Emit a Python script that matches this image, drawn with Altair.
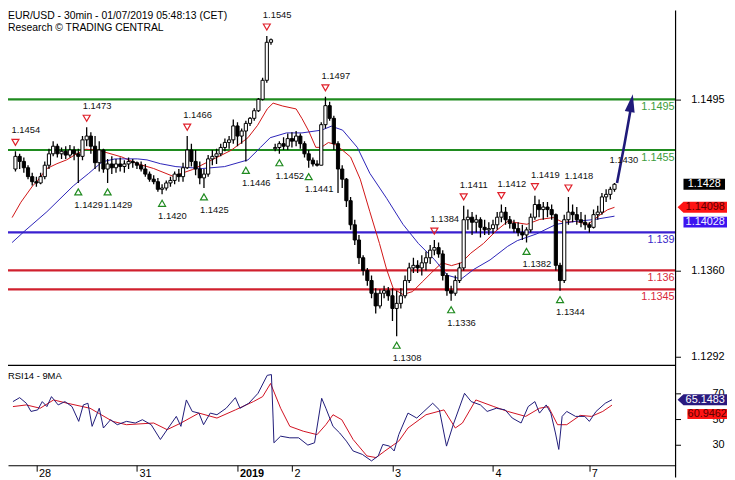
import altair as alt
import pandas as pd

# ---------------- DATA (prices in pips: 1454 -> 1.1454) ----------------
bar_hour = list(range(-5, 139))
bar_high = [1454, 1452, 1449, 1443, 1437, 1434, 1437, 1446, 1456, 1462,
            1460, 1457, 1458, 1459, 1458, 1456, 1466, 1473, 1469, 1466,
            1462, 1456, 1448, 1450, 1448, 1449, 1447, 1449, 1448, 1446,
            1446, 1444, 1438, 1435, 1433, 1428, 1431, 1434, 1438, 1440,
            1445, 1466, 1460, 1455, 1446, 1440, 1451, 1455, 1456, 1460,
            1464, 1466, 1479, 1477, 1472, 1478, 1481, 1488, 1496, 1512,
            1545, 1543, 1460, 1462, 1465, 1468, 1469, 1470, 1468, 1462,
            1455, 1449, 1447, 1477, 1497, 1493, 1482, 1462, 1443, 1433,
            1418, 1400, 1388, 1372, 1362, 1356, 1346, 1345, 1348, 1347,
            1346, 1344, 1346, 1356, 1366, 1370, 1368, 1372, 1375, 1380,
            1384, 1382, 1376, 1358, 1348, 1356, 1366, 1411, 1408, 1406,
            1404, 1402, 1400, 1398, 1400, 1406, 1412, 1410, 1403, 1400,
            1398, 1396, 1394, 1405, 1419, 1416, 1414, 1414, 1412, 1405,
            1366, 1404, 1418, 1412, 1410, 1406, 1404, 1398, 1408, 1411,
            1421, 1424, 1426, 1429]
bar_low = [1438, 1440, 1437, 1432, 1427, 1426, 1428, 1432, 1440, 1450,
           1449, 1448, 1448, 1449, 1447, 1429, 1447, 1458, 1452, 1440,
           1438, 1437, 1429, 1436, 1437, 1438, 1437, 1440, 1441, 1440,
           1438, 1434, 1430, 1428, 1422, 1420, 1423, 1426, 1428, 1430,
           1430, 1440, 1442, 1435, 1428, 1425, 1434, 1443, 1444, 1450,
           1454, 1456, 1460, 1458, 1460, 1446, 1474, 1478, 1485, 1494,
           1508, 1538, 1454, 1452, 1455, 1455, 1457, 1458, 1456, 1449,
           1441, 1442, 1442, 1443, 1472, 1478, 1455, 1421, 1425, 1410,
           1392, 1380, 1365, 1356, 1348, 1338, 1326, 1330, 1338, 1336,
           1320, 1308, 1330, 1338, 1350, 1358, 1358, 1356, 1360, 1365,
           1372, 1370, 1352, 1340, 1336, 1340, 1350, 1360, 1392, 1388,
           1390, 1386, 1388, 1388, 1389, 1392, 1398, 1396, 1393, 1390,
           1387, 1384, 1382, 1390, 1400, 1402, 1400, 1402, 1400, 1360,
           1344, 1350, 1396, 1398, 1396, 1394, 1392, 1390, 1393, 1400,
           1404, 1414, 1416, 1422]
bar_close = [1450, 1446, 1441, 1434, 1430, 1429, 1434, 1443, 1452, 1458,
             1452, 1454, 1451, 1455, 1452, 1450, 1463, 1466, 1458, 1445,
             1455, 1440, 1444, 1441, 1444, 1442, 1444, 1446, 1445, 1443,
             1440, 1436, 1432, 1430, 1424, 1425, 1429, 1431, 1436, 1434,
             1441, 1455, 1446, 1440, 1433, 1436, 1448, 1450, 1452, 1457,
             1461, 1463, 1474, 1466, 1470, 1476, 1480, 1486, 1495, 1510,
             1540, 1542, 1457, 1460, 1458, 1464, 1462, 1466, 1460, 1452,
             1447, 1444, 1443, 1475, 1490, 1480, 1460, 1440, 1432, 1415,
             1396, 1384, 1370, 1360, 1352, 1342, 1332, 1342, 1344, 1340,
             1330, 1334, 1340, 1352, 1362, 1364, 1362, 1366, 1370, 1376,
             1378, 1373, 1356, 1344, 1342, 1352, 1362, 1400, 1402, 1398,
             1400, 1394, 1392, 1393, 1396, 1402, 1406, 1400, 1397, 1393,
             1390, 1388, 1392, 1402, 1412, 1408, 1410, 1408, 1404, 1364,
             1352, 1400, 1406, 1404, 1400, 1398, 1396, 1394, 1404, 1406,
             1418, 1420, 1424, 1428]
first_open = 1440
session_open = {57: 1456}

red_ma_hour = [-5.8, -3.7, -0.9, 0.2, 2.5, 4.9, 7.2, 9.5, 11.8, 14.8,
               20.4, 24.1, 28.0, 32.6, 37.3, 41.9, 46.5, 50.5, 52.8, 55.1,
               56.5, 58.8, 62.0, 63.4, 65.0, 66.7, 68.0, 69.7, 71.3, 73.1,
               75.0, 77.3, 79.6, 81.9, 83.6, 85.2, 87.5, 89.8, 92.1, 94.4,
               96.8, 99.1, 101.4, 103.7, 106.7, 109.7, 112.5, 117.1, 120.1, 123.4,
               125.7, 128.7, 131.7, 134.0, 136.3, 138.0]
red_ma_pips = [1401.7, 1413.8, 1426.7, 1430.5, 1440.4, 1444.2, 1447.2, 1451.8, 1455.6, 1454.8,
               1449.5, 1444.2, 1440.4, 1434.3, 1439.6, 1447.2, 1454.8, 1464.7, 1474.5, 1487.4,
               1492.0, 1489.7, 1487.4, 1479.8, 1470.0, 1457.1, 1457.1, 1460.9, 1459.4, 1454.8,
               1449.5, 1432.0, 1406.3, 1381.2, 1360.8, 1345.6, 1341.0, 1343.3, 1350.9, 1358.5,
               1366.0, 1363.8, 1366.0, 1373.6, 1381.2, 1391.1, 1398.7, 1396.4, 1400.2, 1401.7,
               1397.9, 1398.7, 1396.4, 1402.5, 1407.8, 1409.8]
blue_ma_hour = [-5.8, -2.8, 2.5, 8.8, 12.5, 15.7, 18.8, 24.1, 26.4, 29.6,
                33.3, 39.6, 44.9, 50.5, 53.5, 55.8, 59.7, 63.4, 68.1, 70.4,
                73.1, 76.6, 79.6, 83.6, 87.5, 91.2, 95.1, 98.1, 101.4, 104.4,
                108.3, 112.5, 114.8, 119.4, 124.1, 128.7, 133.3, 138.0]
blue_ma_pips = [1382.0, 1391.1, 1406.3, 1426.7, 1436.6, 1445.7, 1448.0, 1448.0, 1447.2, 1444.2,
                1441.9, 1440.4, 1441.9, 1447.2, 1457.1, 1464.7, 1468.5, 1468.5, 1470.7, 1473.8,
                1470.7, 1457.1, 1436.6, 1416.9, 1396.4, 1381.2, 1368.3, 1356.2, 1353.2, 1360.8,
                1368.3, 1379.0, 1383.5, 1388.8, 1396.4, 1398.7, 1400.2, 1402.8]

peak_hour = [-5, 12, 36, 55, 69, 95, 102, 111, 119, 127]
peak_pips = [1454, 1473, 1466, 1545, 1497, 1384, 1411, 1412, 1419, 1418]
trough_hour = [10, 17, 30, 40, 50, 58, 65, 86, 99, 117, 125]
trough_pips = [1429, 1429, 1420, 1425, 1446, 1452, 1441, 1308, 1336, 1382, 1344]

level_values = [1.1495, 1.1455, 1.139, 1.136, 1.1345]
level_labels = ["1.1495", "1.1455", "1.139", "1.136", "1.1345"]
level_line_colors = ["#1f8b1f", "#1f8b1f", "#3a20d0", "#d0202e", "#d0202e"]
level_text_colors = ["#3c9c3c", "#3c9c3c", "#3a28c8", "#d8283a", "#d8283a"]

arrow_hour = [138.6, 140.4, 141.8]
arrow_pips = [1429, 1460, 1486]
arrow_tip_hour = [142.0]
arrow_tip_pips = [1492]
last_label_hour = [136.8]
last_label_pips = [1447]
last_label_text = ["1.1430"]

rsi_hour = [-5.6, -4.0, -2.4, -1.3, 0.3, 1.4, 2.5, 3.6, 5.2, 6.8,
            8.5, 10.1, 11.2, 12.3, 13.3, 15.0, 16.0, 17.7, 19.3, 21.5,
            23.6, 25.3, 27.4, 29.6, 31.2, 33.4, 34.5, 35.8, 37.2, 38.8,
            39.9, 41.5, 43.1, 45.3, 47.5, 48.6, 50.7, 52.9, 55.1, 56.1,
            56.5, 56.7, 58.3, 60.5, 62.6, 64.8, 66.4, 68.1, 69.1, 70.8,
            72.4, 74.0, 75.6, 77.8, 80.0, 81.6, 82.7, 84.3, 85.4, 86.5,
            88.7, 90.8, 92.5, 94.6, 96.2, 97.9, 99.5, 102.2, 103.8, 106.0,
            107.6, 109.8, 111.9, 113.6, 115.7, 117.4, 119.0, 120.1, 121.7, 122.8,
            123.9, 124.7, 125.5, 126.6, 128.7, 130.9, 132.0, 133.6, 135.8, 137.4]
rsi_value = [63.7, 66.8, 62.4, 56.0, 57.2, 63.7, 59.8, 67.6, 61.1, 63.7,
             59.8, 48.2, 61.1, 62.4, 44.3, 58.5, 43.0, 49.5, 45.6, 48.2,
             46.9, 49.5, 45.6, 34.0, 41.7, 52.1, 44.3, 65.0, 56.0, 54.7,
             45.6, 54.7, 53.4, 58.5, 66.8, 58.5, 62.4, 70.2, 84.3, 84.9,
             50.8, 31.4, 36.6, 35.3, 35.3, 29.6, 31.4, 66.3, 58.5, 44.3,
             39.1, 32.7, 25.0, 22.3, 17.2, 21.1, 30.1, 28.8, 25.0, 37.8,
             54.7, 50.8, 56.0, 62.4, 57.2, 28.8, 45.6, 70.2, 63.7, 61.1,
             56.0, 58.5, 57.2, 50.8, 46.9, 59.8, 63.7, 54.7, 61.1, 54.7,
             39.1, 26.2, 52.1, 56.0, 52.1, 52.1, 48.2, 56.0, 62.4, 65.15]
rsi_ma_hour = [-5.6, -2.4, 0.9, 4.1, 7.4, 12.8, 18.2, 21.5, 28.0, 31.2,
               34.5, 38.8, 43.1, 47.5, 51.8, 54.0, 55.9, 58.3, 60.5, 63.7,
               67.0, 69.1, 70.8, 72.9, 75.6, 78.9, 81.1, 83.2, 86.5, 88.7,
               93.0, 97.3, 100.0, 101.7, 104.9, 109.2, 112.5, 116.8, 120.1, 122.2,
               124.4, 126.6, 129.8, 132.5, 135.2, 137.4]
rsi_ma_value = [59.8, 61.1, 58.5, 65.0, 62.4, 58.5, 48.2, 45.6, 46.9, 41.7,
                46.9, 54.7, 50.8, 57.2, 63.7, 67.6, 77.9, 58.5, 44.3, 40.5,
                37.8, 45.6, 53.4, 49.5, 34.0, 21.1, 19.8, 25.0, 32.7, 43.0,
                53.4, 57.2, 43.0, 46.9, 65.0, 59.8, 56.0, 52.1, 58.5, 59.8,
                45.6, 45.6, 52.9, 52.1, 56.0, 60.95]

day_tick_hour = [0, 24, 48, 61, 85, 109, 132]
day_tick_label = ["28", "31", "2019", "2", "3", "4", "7"]
price_axis_values = [1.1292, 1.1360, 1.1495]
rsi_axis_values = [30, 50, 70]

last_price = [1.1428]
red_ma_last = [1.14098]
blue_ma_last = [1.14028]
rsi_last = [65.1483]
rsi_ma_last = [60.9462]

# ---------------- BUILD ----------------
FONT = "Liberation Sans"
W = 675
H = 459.7
PRICE_BOTTOM = 358.7


def to_price(v):
    return round(1 + v / 10000.0, 6)


opens = []
prev = first_open
for hh, cc in zip(bar_hour, bar_close):
    opens.append(session_open.get(hh, prev))
    prev = cc

bars = pd.DataFrame({
    "h": bar_hour,
    "o": [to_price(v) for v in opens],
    "hi": [to_price(v) for v in bar_high],
    "lo": [to_price(v) for v in bar_low],
    "c": [to_price(v) for v in bar_close],
})

x_scale = alt.Scale(domain=[-5.6, 151.4], nice=False, zero=False)
price_scale = alt.Scale(domain=[1.12851, 1.1565], range=[PRICE_BOTTOM, 0], nice=False, zero=False)
rsi_scale = alt.Scale(domain=[13.8, 91.9], range=[H, 359.0], nice=False, zero=False)

label_expr = ""
for v, t in zip(day_tick_hour, day_tick_label):
    label_expr += f"datum.value == {v} ? '{t}' : "
label_expr += "''"

x_axis = alt.Axis(
    values=day_tick_hour, labelExpr=label_expr, orient="bottom", grid=False, title=None,
    domain=True, domainColor="black", domainWidth=1.2, ticks=True, tickColor="black", tickSize=6,
    labelAlign="left", labelBaseline="top", labelPadding=-4, labelOffset=2,
    labelFont=FONT, labelFontSize=11, labelColor="black", labelFlush=False, labelOverlap=False,
    labelFontWeight={"condition": {"test": "datum.value == 48", "value": "bold"}, "value": "normal"},
)


def X(field="h"):
    return alt.X(f"{field}:Q", scale=x_scale, axis=x_axis)


def PY(field, axis=None):
    return alt.Y(f"{field}:Q", scale=price_scale, axis=axis)


def RY(field, axis=None):
    return alt.Y(f"{field}:Q", scale=rsi_scale, axis=axis)


right_axis_common = dict(
    orient="right", grid=False, title=None, domain=False, ticks=True, tickColor="black",
    tickSize=5, labelPadding=44, labelAlign="right", labelBaseline="middle",
    labelFont=FONT, labelFontSize=11, labelColor="black", labelFlush=False, labelOverlap=False,
)
price_axis = alt.Axis(values=price_axis_values, format=".4f", **right_axis_common)
rsi_axis = alt.Axis(values=rsi_axis_values, format="d", **right_axis_common)

one = pd.DataFrame({"k": [0]})

# levels
levels = pd.DataFrame({"v": level_values, "name": level_labels})
level_rules = alt.Chart(levels).mark_rule(strokeWidth=2.2).encode(
    y=PY("v"),
    color=alt.Color("name:N", scale=alt.Scale(domain=level_labels, range=level_line_colors), legend=None),
)
level_text = alt.Chart(levels).mark_text(align="right", baseline="middle", dy=8, fontSize=11, font=FONT).encode(
    x=alt.value(W - 1), y=PY("v"), text="name:N",
    color=alt.Color("name:N", scale=alt.Scale(domain=level_labels, range=level_text_colors), legend=None),
)

# moving averages
red_ma = pd.DataFrame({"h": red_ma_hour, "v": [to_price(v) for v in red_ma_pips]})
blue_ma = pd.DataFrame({"h": blue_ma_hour, "v": [to_price(v) for v in blue_ma_pips]})
red_ma_line = alt.Chart(red_ma).mark_line(color="#d01414", strokeWidth=1, clip=True).encode(x=X(), y=PY("v"))
blue_ma_line = alt.Chart(blue_ma).mark_line(color="#2a22b8", strokeWidth=1, clip=True).encode(x=X(), y=PY("v"))

# candles
wicks = alt.Chart(bars).mark_rule(color="black", strokeWidth=1.3, clip=True).encode(
    x=X(), y=PY("lo", price_axis), y2="hi:Q")
bodies = alt.Chart(bars).mark_bar(width=3.2, stroke="black", strokeWidth=1, clip=True).encode(
    x=X(), y=PY("o"), y2="c:Q",
    fill=alt.condition("datum.c >= datum.o", alt.value("white"), alt.value("black")),
)

# pivots
peaks = pd.DataFrame({"h": peak_hour, "v": [to_price(p) for p in peak_pips]})
troughs = pd.DataFrame({"h": trough_hour, "v": [to_price(p) for p in trough_pips]})
peak_tri = alt.Chart(peaks).mark_point(shape="triangle-down", size=50, filled=False, color="#e0202a",
                                       strokeWidth=1.2, opacity=1, yOffset=-9).encode(x=X(), y=PY("v"))
peak_txt = alt.Chart(peaks).mark_text(align="left", baseline="middle", dx=-4, dy=-21, fontSize=9.5,
                                      font=FONT, color="#111111").encode(
    x=X(), y=PY("v"), text=alt.Text("v:Q", format=".4f"))
trough_tri = alt.Chart(troughs).mark_point(shape="triangle-up", size=50, filled=False, color="#1f8a1f",
                                           strokeWidth=1.2, opacity=1, yOffset=9).encode(x=X(), y=PY("v"))
trough_txt = alt.Chart(troughs).mark_text(align="left", baseline="middle", dx=-4, dy=22, fontSize=9.5,
                                          font=FONT, color="#111111").encode(
    x=X(), y=PY("v"), text=alt.Text("v:Q", format=".4f"))

# arrow
arrow = pd.DataFrame({"h": arrow_hour, "v": [to_price(v) for v in arrow_pips]})
arrow_line = alt.Chart(arrow).mark_line(color="#1f1a7a", strokeWidth=2.6, interpolate="monotone").encode(
    x=X(), y=PY("v"))
tip = pd.DataFrame({"h": arrow_tip_hour, "v": [to_price(v) for v in arrow_tip_pips]})
arrow_head = alt.Chart(tip).mark_point(shape="M0,-1L0.56,1L-0.56,1Z", size=324, angle=10, filled=True,
                                       color="#1f1a7a", opacity=1).encode(x=X(), y=PY("v"))
last_lbl = pd.DataFrame({"h": last_label_hour, "v": [to_price(v) for v in last_label_pips],
                         "t": last_label_text})
last_lbl_txt = alt.Chart(last_lbl).mark_text(align="left", baseline="middle", fontSize=9.5, font=FONT,
                                             color="#111111").encode(x=X(), y=PY("v"), text="t:N")

# RSI
rsi = pd.DataFrame({"h": rsi_hour, "r": rsi_value})
rsi_ma = pd.DataFrame({"h": rsi_ma_hour, "r": rsi_ma_value})
rsi_line = alt.Chart(rsi).mark_line(color="#1e1a78", strokeWidth=1, clip=True).encode(x=X(), y=RY("r", rsi_axis))
rsi_ma_line = alt.Chart(rsi_ma).mark_line(color="#d01020", strokeWidth=1, clip=True).encode(x=X(), y=RY("r"))

# frame lines
sep_rule = alt.Chart(one).mark_rule(color="black", strokeWidth=1.2).encode(
    x=alt.value(0), x2=alt.value(W), y=alt.value(PRICE_BOTTOM))
right_rule = alt.Chart(one).mark_rule(color="black", strokeWidth=1.2).encode(
    x=alt.value(W), y=alt.value(0), y2=alt.value(472))

# titles
head1 = alt.Chart(one).mark_text(align="left", baseline="middle", fontSize=10.5, font=FONT, color="black").encode(
    x=alt.value(0), y=alt.value(5), text=alt.value("EUR/USD - 30min - 01/07/2019 05:48:13 (CET)"))
head2 = alt.Chart(one).mark_text(align="left", baseline="middle", fontSize=10.5, font=FONT, color="black").encode(
    x=alt.value(0), y=alt.value(18), text=alt.value("Research \u00a9 TRADING CENTRAL"))
rsi_title = alt.Chart(one).mark_text(align="left", baseline="middle", fontSize=9.5, font=FONT, color="black").encode(
    x=alt.value(0), y=alt.value(369), text=alt.value("RSI14 - 9MA"))

# value boxes on the right axis
RECT42 = "M-1,-0.262H1V0.262H-1Z"
RECT44 = "M-1,-0.25H1V0.25H-1Z"
RECT40 = "M-1,-0.25H1V0.25H-1Z"
POINTER = "M-1,0L-0.76,-0.22H1V0.22H-0.76Z"


def value_box(values, ychan, fmt, shape, size, fill, tcolor, cx, tx, yoff):
    d = pd.DataFrame({"v": values})
    base = alt.Chart(d)
    box = base.mark_point(shape=shape, size=size, filled=True, color=fill, opacity=1,
                          strokeWidth=0, yOffset=yoff).encode(x=alt.value(cx), y=ychan("v"))
    txt = base.mark_text(align="center", baseline="middle", fontSize=11, font=FONT, color=tcolor,
                         dy=yoff).encode(x=alt.value(tx), y=ychan("v"), text=alt.Text("v:Q", format=fmt))
    return [box, txt]


boxes = []
boxes += value_box(last_price, PY, ".4f", RECT42, 1764, "#000000", "#ffffff", 704, 704, 0)
boxes += value_box(red_ma_last, PY, ".5f", POINTER, 2500, "#ff1414", "#5a0000", 702, 705, 0)
boxes += value_box(blue_ma_last, PY, ".5f", RECT44, 1936, "#3c14f0", "#f0f0ff", 705, 705, 6)
boxes += value_box(rsi_last, RY, ".4f", POINTER, 2500, "#2a1a7e", "#ffffff", 702, 705, 0)
boxes += value_box(rsi_ma_last, RY, ".4f", RECT40, 1600, "#ff1414", "#5a0000", 707, 707, 9)

chart = alt.layer(
    level_rules, red_ma_line, blue_ma_line, wicks, bodies, level_text,
    peak_tri, peak_txt, trough_tri, trough_txt,
    arrow_line, arrow_head, last_lbl_txt,
    rsi_ma_line, rsi_line,
    sep_rule, right_rule, head1, head2, rsi_title,
    *boxes,
).resolve_scale(y="independent", color="independent").properties(
    width=W, height=H,
    autosize=alt.AutoSizeParams(type="none"),
    padding={"left": 0, "top": 0, "right": 52, "bottom": 12.3},
    background="white",
).configure_view(stroke=None)

chart.save("out.html", embed_options={"renderer": "svg", "actions": False})
